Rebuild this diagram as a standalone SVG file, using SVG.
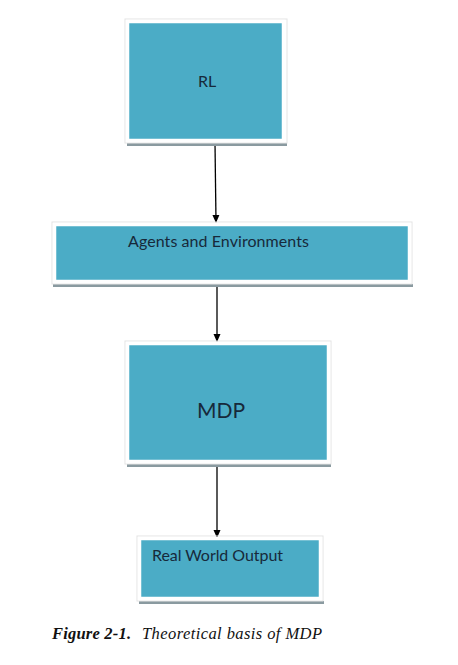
<svg xmlns="http://www.w3.org/2000/svg" width="458" height="665" viewBox="0 0 458 665">
<style>
.shadow{fill:#8a9aa0;}
.box{fill:#4bacc6;stroke:#ffffff;stroke-width:3.5;}
.outline{fill:none;stroke:#e4e4e4;stroke-width:1;}
.lbl{font-family:Lato,"Liberation Sans",Arial,sans-serif;fill:#17293a;}
.edge{stroke:#000;stroke-width:1.3;fill:none;marker-end:url(#ah);}
.cap{font-family:"Liberation Serif","Times New Roman",serif;font-style:italic;font-size:16.5px;fill:#111;}
</style>
<defs>
<marker id="ah" markerWidth="8" markerHeight="8" refX="7" refY="4" orient="auto" markerUnits="userSpaceOnUse">
<path d="M0,0.5 L8,4 L0,7.5 Z" fill="#000"/>
</marker>
</defs>
<rect width="458" height="665" fill="#ffffff"/>
<g id="connectors">
<line class="edge" x1="215" y1="143" x2="216" y2="222"/>
<line class="edge" x1="217" y1="284" x2="217" y2="341"/>
<line class="edge" x1="217" y1="466" x2="217" y2="537"/>
</g>
<g id="node-rl">
<rect class="shadow" x="127" y="143" width="160" height="3"/>
<rect class="outline" x="125" y="19" width="162" height="124"/>
<rect class="box" x="127.5" y="21.5" width="156" height="119"/>
<text class="lbl" x="207" y="87" font-size="16" text-anchor="middle">RL</text>
</g>
<g id="node-agents">
<rect class="shadow" x="53" y="284" width="360" height="3"/>
<rect class="outline" x="52" y="222" width="360" height="62"/>
<rect class="box" x="54.5" y="224.5" width="355" height="57"/>
<text class="lbl" x="128" y="247" font-size="16" textLength="181">Agents and Environments</text>
</g>
<g id="node-mdp">
<rect class="shadow" x="127" y="464" width="204" height="3"/>
<rect class="outline" x="125" y="341" width="206" height="123"/>
<rect class="box" x="127.5" y="343.5" width="201" height="118"/>
<text class="lbl" x="221" y="418" font-size="21" text-anchor="middle">MDP</text>
</g>
<g id="node-output">
<rect class="shadow" x="139" y="601" width="185" height="3"/>
<rect class="outline" x="137" y="536" width="186" height="65"/>
<rect class="box" x="139.5" y="538.5" width="181" height="60"/>
<text class="lbl" x="152" y="561" font-size="16" textLength="131">Real World Output</text>
</g>
<g id="caption">
<text class="cap" x="52" y="639" font-weight="bold" textLength="79">Figure 2-1.</text>
<text class="cap" x="142" y="639" textLength="180">Theoretical basis of MDP</text>
</g>
</svg>
